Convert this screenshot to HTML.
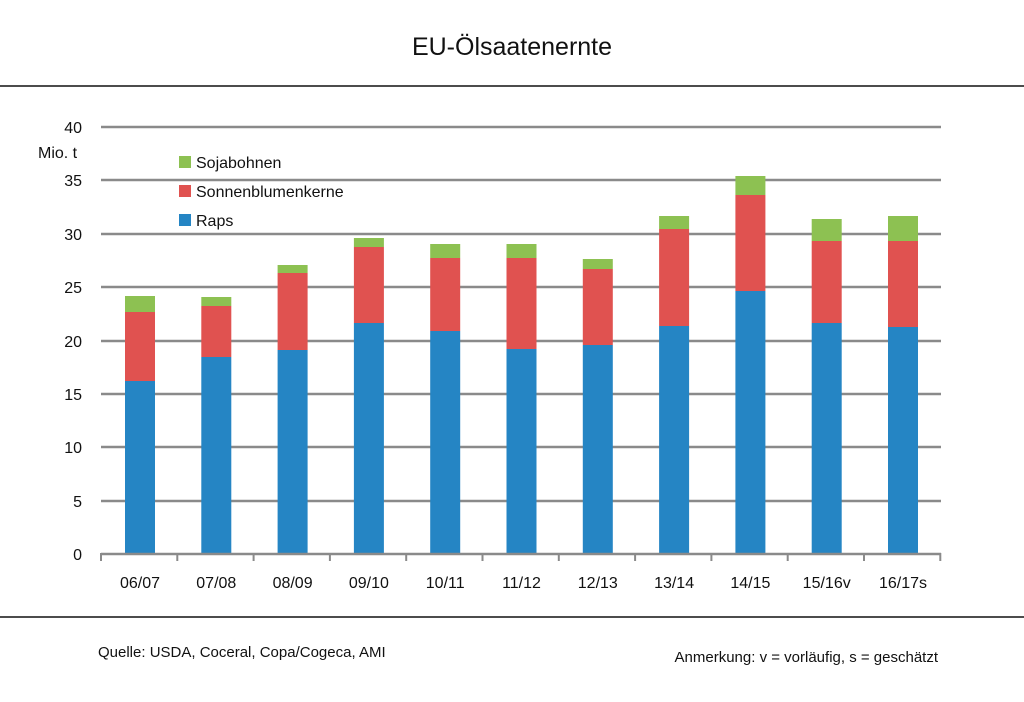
<!DOCTYPE html>
<html><head><meta charset="utf-8"><style>
body{margin:0;background:#fff;}
svg text{font-family:"Liberation Sans",sans-serif;fill:#111;}
</style></head><body>
<svg width="1024" height="697" xmlns="http://www.w3.org/2000/svg">
<rect width="1024" height="697" fill="#fff"/>
<text x="512" y="55" font-size="25" text-anchor="middle">EU-Ölsaatenernte</text>
<line x1="0" y1="86" x2="1024" y2="86" stroke="#111" stroke-width="1.5"/>
<line x1="0" y1="617" x2="1024" y2="617" stroke="#111" stroke-width="1.5"/>
<g stroke="#8a8a8a" stroke-width="2.5">
<line x1="101" y1="127" x2="941" y2="127"/>
<line x1="101" y1="180" x2="941" y2="180"/>
<line x1="101" y1="234" x2="941" y2="234"/>
<line x1="101" y1="287" x2="941" y2="287"/>
<line x1="101" y1="341" x2="941" y2="341"/>
<line x1="101" y1="394" x2="941" y2="394"/>
<line x1="101" y1="447" x2="941" y2="447"/>
<line x1="101" y1="501" x2="941" y2="501"/>
</g>
<g font-size="16" text-anchor="end">
<text x="82" y="133">40</text><text x="82" y="186">35</text><text x="82" y="240">30</text><text x="82" y="293">25</text><text x="82" y="347">20</text><text x="82" y="400">15</text><text x="82" y="453">10</text><text x="82" y="507">5</text><text x="82" y="560">0</text>
</g>
<text x="38" y="158" font-size="16">Mio. t</text>
<rect x="179" y="156" width="12" height="12" fill="#8dc152"/><text x="196" y="168" font-size="16">Sojabohnen</text>
<rect x="179" y="185" width="12" height="12" fill="#e05250"/><text x="196" y="197" font-size="16">Sonnenblumenkerne</text>
<rect x="179" y="214" width="12" height="12" fill="#2585c4"/><text x="196" y="226" font-size="16">Raps</text>

<g>
<rect x="125" y="296" width="30" height="16" fill="#8dc152"/><rect x="125" y="312" width="30" height="69" fill="#e05250"/><rect x="125" y="381" width="30" height="173" fill="#2585c4"/>
<rect x="201.3" y="297" width="30" height="9" fill="#8dc152"/><rect x="201.3" y="306" width="30" height="51" fill="#e05250"/><rect x="201.3" y="357" width="30" height="197" fill="#2585c4"/>
<rect x="277.6" y="265" width="30" height="8" fill="#8dc152"/><rect x="277.6" y="273" width="30" height="77" fill="#e05250"/><rect x="277.6" y="350" width="30" height="204" fill="#2585c4"/>
<rect x="353.9" y="238" width="30" height="9" fill="#8dc152"/><rect x="353.9" y="247" width="30" height="76" fill="#e05250"/><rect x="353.9" y="323" width="30" height="231" fill="#2585c4"/>
<rect x="430.2" y="244" width="30" height="14" fill="#8dc152"/><rect x="430.2" y="258" width="30" height="73" fill="#e05250"/><rect x="430.2" y="331" width="30" height="223" fill="#2585c4"/>
<rect x="506.5" y="244" width="30" height="14" fill="#8dc152"/><rect x="506.5" y="258" width="30" height="91" fill="#e05250"/><rect x="506.5" y="349" width="30" height="205" fill="#2585c4"/>
<rect x="582.8" y="259" width="30" height="10" fill="#8dc152"/><rect x="582.8" y="269" width="30" height="76" fill="#e05250"/><rect x="582.8" y="345" width="30" height="209" fill="#2585c4"/>
<rect x="659.1" y="216" width="30" height="13" fill="#8dc152"/><rect x="659.1" y="229" width="30" height="97" fill="#e05250"/><rect x="659.1" y="326" width="30" height="228" fill="#2585c4"/>
<rect x="735.4" y="176" width="30" height="19" fill="#8dc152"/><rect x="735.4" y="195" width="30" height="96" fill="#e05250"/><rect x="735.4" y="291" width="30" height="263" fill="#2585c4"/>
<rect x="811.7" y="219" width="30" height="22" fill="#8dc152"/><rect x="811.7" y="241" width="30" height="82" fill="#e05250"/><rect x="811.7" y="323" width="30" height="231" fill="#2585c4"/>
<rect x="888" y="216" width="30" height="25" fill="#8dc152"/><rect x="888" y="241" width="30" height="86" fill="#e05250"/><rect x="888" y="327" width="30" height="227" fill="#2585c4"/>
</g>
<g stroke="#8a8a8a" stroke-width="2">
<line x1="101" y1="553" x2="101" y2="561"/><line x1="177.3" y1="553" x2="177.3" y2="561"/><line x1="253.6" y1="553" x2="253.6" y2="561"/><line x1="329.9" y1="553" x2="329.9" y2="561"/><line x1="406.2" y1="553" x2="406.2" y2="561"/><line x1="482.5" y1="553" x2="482.5" y2="561"/><line x1="558.8" y1="553" x2="558.8" y2="561"/><line x1="635.1" y1="553" x2="635.1" y2="561"/><line x1="711.4" y1="553" x2="711.4" y2="561"/><line x1="787.7" y1="553" x2="787.7" y2="561"/><line x1="864" y1="553" x2="864" y2="561"/><line x1="940.3" y1="553" x2="940.3" y2="561"/>
</g>
<line x1="101" y1="554" x2="941" y2="554" stroke="#8a8a8a" stroke-width="2.5"/>
<g font-size="16" text-anchor="middle">
<text x="140" y="588">06/07</text><text x="216.3" y="588">07/08</text><text x="292.6" y="588">08/09</text><text x="368.9" y="588">09/10</text><text x="445.2" y="588">10/11</text><text x="521.5" y="588">11/12</text><text x="597.8" y="588">12/13</text><text x="674.1" y="588">13/14</text><text x="750.4" y="588">14/15</text><text x="826.7" y="588">15/16v</text><text x="903" y="588">16/17s</text>
</g>
<text x="98" y="657" font-size="15">Quelle: USDA, Coceral, Copa/Cogeca, AMI</text>
<text x="938" y="662" font-size="15" text-anchor="end">Anmerkung: v = vorläufig, s = geschätzt</text>
</svg>
</body></html>
